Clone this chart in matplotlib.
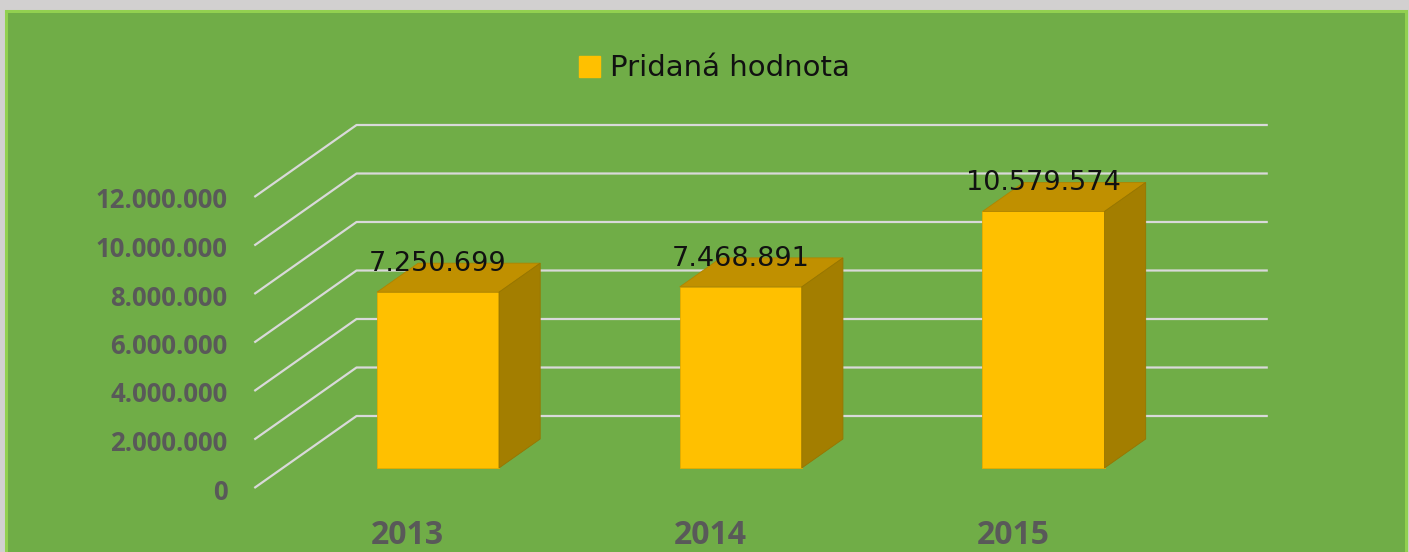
import matplotlib
matplotlib.use('Agg')
import matplotlib.pyplot as plt
from matplotlib.patches import Rectangle, Polygon, Patch

# data
years = ['2013', '2014', '2015']
values = [7250699, 7468891, 10579574]
tick_values = [0, 2000000, 4000000, 6000000, 8000000, 10000000, 12000000]
series_name = 'Pridaná hodnota'

def fmt(v):
    return f'{int(v):,}'.replace(',', '.')

W, H = 1409, 552
fig = plt.figure(figsize=(W / 100, H / 100), dpi=100)
fig.patch.set_facecolor('#D2D0D0')

# green chart panel with light green border
fig.patches.append(Rectangle((6 / W, -0.05), 1400 / W, 1.05 - 11 / H, transform=fig.transFigure,
                             facecolor='#70AD47', edgecolor='#92D050', lw=2.2, zorder=-5))

# oblique projection, pixel geometry of the front plane
x0, step = 438, 302.75          # px of first category centre, px per category
zero, ppu = 468, 24.25 / 1e6    # px (from top) of value 0, px per unit value
slope = 1.42                     # horizontal px per vertical px of depth

ax = fig.add_axes([0, 0, 1, 1])
ax.set_zorder(2)
ax.set_xlim((0 - x0) / step, (W - x0) / step)
ax.set_ylim(-(H - zero) / ppu, zero / ppu)
ax.axis('off')
ax.patch.set_alpha(0)

def depth(d):
    return slope * d / step, d / ppu

d_front, d_bar, d_wall = -20, 29, 52
xmin, xmax = -0.513, 2.497
fx, fy = depth(d_front)
wx, wy = depth(d_wall)
bx, by = depth(d_bar)

grid_col = '#D9D9D9'
label_col = '#595959'

# side-wall and back-wall gridlines
for v in tick_values:
    ax.plot([xmin + fx, xmin + wx, xmax + wx], [v + fy, v + wy, v + wy],
            color=grid_col, lw=1.6, zorder=1, solid_capstyle='butt')
    ax.annotate(fmt(v), (xmin + fx, v + fy), xytext=(-27, -11.5), textcoords='offset pixels',
                ha='right', va='baseline', fontsize=18.5, fontweight='bold',
                family='Open Sans', color=label_col)

# 3d bars
w = 0.403
for i, v in enumerate(values):
    ax.bar(i, v, width=w, color='#FFC000', edgecolor='#E6AC00', lw=0.6, zorder=3)
    top = [(i - w / 2, v), (i + w / 2, v), (i + w / 2 + bx, v + by), (i - w / 2 + bx, v + by)]
    side = [(i + w / 2, 0), (i + w / 2, v), (i + w / 2 + bx, v + by), (i + w / 2 + bx, by)]
    ax.add_patch(Polygon(top, closed=True, facecolor='#C09000', edgecolor='#B08400', lw=0.6, zorder=3))
    ax.add_patch(Polygon(side, closed=True, facecolor='#A37E00', edgecolor='#977500', lw=0.6, zorder=3))
    ax.annotate(fmt(v), (i, v + by), xytext=(0, -8), textcoords='offset pixels',
                ha='center', va='baseline', fontsize=19.5, family='DejaVu Sans',
                color='#111111', zorder=5)
    ax.annotate(years[i], (i + fx, fy), xytext=(-2, -56), textcoords='offset pixels',
                ha='center', va='baseline', fontsize=23, fontweight='bold',
                family='Open Sans', color=label_col)

fig.legend(handles=[Patch(color='#FFC000', label=series_name)], loc='center',
           bbox_to_anchor=(714.5 / W, 1 - 68.5 / H), frameon=False,
           prop={'family': 'DejaVu Sans', 'size': 21},
           handlelength=0.72, handleheight=0.72, handletextpad=0.35, labelcolor='#111111')

fig.savefig('out.png', dpi=100, facecolor=fig.get_facecolor())
